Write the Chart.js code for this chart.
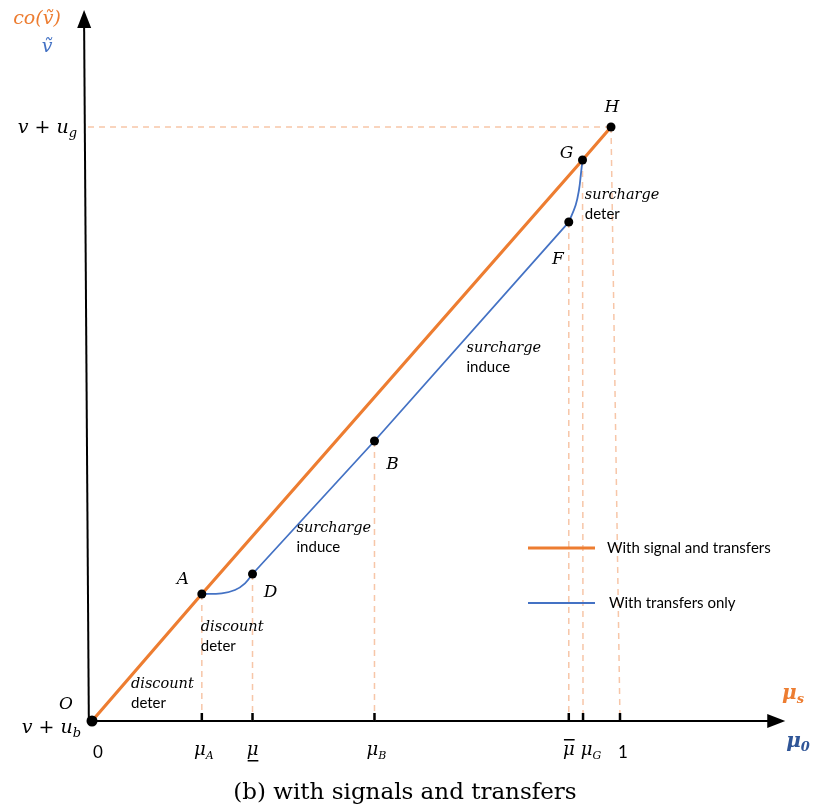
<!DOCTYPE html>
<html>
<head>
<meta charset="utf-8">
<script src="https://cdn.jsdelivr.net/npm/chart.js@4/dist/chart.umd.min.js"></script>
<style>
  html, body { margin: 0; padding: 0; background: #ffffff; overflow: hidden; }
  #wrap { width: 813px; height: 812px; position: relative; }
</style>
</head>
<body>
<div id="wrap"><canvas id="chart"></canvas></div>
<script>
// Belief (mu) on the horizontal axis, value on the vertical axis (0 = v+u_b, 1 = v+u_g).
const pointNames = ['O', 'A', 'D', 'B', 'F', 'G', 'H'];
const pointMu    = [0, 0.208, 0.304, 0.535, 0.903, 0.929, 0.983];
const pointValue = [0, 0.2138, 0.2475, 0.4714, 0.840, 0.9444, 1.0];

// Tick positions and labels on the mu axis ("_" starts a subscript)
const tickMu     = [0, 0.208, 0.304, 0.535, 0.903, 0.930, 1];
const tickLabels = ['0', 'μ_A', 'μ', 'μ_B', 'μ', 'μ_G', '1'];
const tickMarks  = ['', '', 'under', '', 'over', '', ''];

// With signal and transfers: straight line O - A - G - H
const signalMu    = [0, 0.208, 0.929, 0.983];
const signalValue = [0, 0.2138, 0.9444, 1.0];

// With transfers only: A -> D (curved), D -> B -> F (straight), F -> G (curved)
const transferMu    = [0.208, 0.2456, 0.2708, 0.2898, 0.304, 0.535, 0.903, 0.9161, 0.9223, 0.9261, 0.929];
const transferValue = [0.2138, 0.2150, 0.2205, 0.2318, 0.2475, 0.4714, 0.840, 0.8687, 0.8939, 0.9221, 0.9444];

const ORANGE = '#ED7D31';
const BLUE = '#4472C4';
const DARKBLUE = '#2F5597';
const GUIDE = '#F7C6A8';

const xy = (xs, ys, a, b) => xs.slice(a, b + 1).map((x, i) => ({ x, y: ys[a + i] }));

const guideSets = pointMu.slice(1).map((m, k) => {
  const i = k + 1;
  return {
    label: 'guide ' + pointNames[i],
    data: [{ x: m, y: pointValue[i] }, { x: tickMu[i], y: 0 }],
    showLine: true, borderColor: GUIDE, borderWidth: 1.5, borderDash: [6, 5],
    pointRadius: 0, order: 20
  };
});
// horizontal guide from H to the value axis
guideSets.push({
  label: 'guide H level',
  data: [{ x: pointMu[6], y: pointValue[6] }, { x: -0.015, y: pointValue[6] }],
  showLine: true, borderColor: GUIDE, borderWidth: 1.5, borderDash: [6, 5],
  pointRadius: 0, order: 20
});

const transferStyle = { showLine: true, borderColor: BLUE, borderWidth: 1.8, pointRadius: 0, order: 3 };

const datasets = [
  {
    label: 'points',
    data: xy(pointMu, pointValue, 0, pointMu.length - 1),
    showLine: false,
    pointRadius: pointNames.map(n => n === 'O' ? 5.5 : 4.5),
    pointBackgroundColor: '#000', pointBorderWidth: 0, order: 0
  },
  {
    label: 'With signal and transfers',
    data: xy(signalMu, signalValue, 0, signalMu.length - 1),
    showLine: true, borderColor: ORANGE, borderWidth: 3.2, pointRadius: 0, order: 2
  },
  Object.assign({ label: 'With transfers only', data: xy(transferMu, transferValue, 0, 4), tension: 0.4 }, transferStyle),
  Object.assign({ label: 'With transfers only (mid)', data: xy(transferMu, transferValue, 4, 6), tension: 0 }, transferStyle),
  Object.assign({ label: 'With transfers only (top)', data: xy(transferMu, transferValue, 6, 10), tension: 0.4 }, transferStyle),
  ...guideSets
];

const mathFont = s => `italic ${s}px "DejaVu Serif"`;
const sansFont = s => `${s}px Lato`;

// draws a run of text pieces: [text, font, color, dy, decoration]
function rich(ctx, parts, x, y, align) {
  let total = 0;
  const widths = parts.map(p => { ctx.font = p[1]; const w = ctx.measureText(p[0]).width; total += w; return w; });
  let cx = align === 'right' ? x - total : align === 'center' ? x - total / 2 : x;
  parts.forEach((p, i) => {
    ctx.font = p[1];
    ctx.fillStyle = p[2] || '#000';
    ctx.textAlign = 'left';
    ctx.textBaseline = 'alphabetic';
    ctx.fillText(p[0], cx, y + (p[3] || 0));
    if (p[4] === 'over' || p[4] === 'under') {
      const ly = p[4] === 'over' ? y - 16 : y + 5;
      ctx.fillRect(cx + 1, ly, widths[i] - 1, 1.5);
    }
    cx += widths[i];
  });
}

function arrowHead(ctx, x0, y0, x1, y1, len, half) {
  const a = Math.atan2(y1 - y0, x1 - x0);
  ctx.beginPath();
  ctx.moveTo(x1, y1);
  ctx.lineTo(x1 - len * Math.cos(a) + half * Math.sin(a), y1 - len * Math.sin(a) - half * Math.cos(a));
  ctx.lineTo(x1 - len * Math.cos(a) - half * Math.sin(a), y1 - len * Math.sin(a) + half * Math.cos(a));
  ctx.closePath();
  ctx.fill();
}

const diagram = {
  id: 'diagram',
  beforeDatasetsDraw(chart) {
    const { ctx, scales: { x, y } } = chart;
    ctx.save();
    ctx.strokeStyle = '#000';
    ctx.fillStyle = '#000';
    ctx.lineWidth = 2;
    // value axis (slightly leaning, as drawn)
    const vx0 = x.getPixelForValue(-0.006), vy0 = y.getPixelForValue(0);
    const vx1 = x.getPixelForValue(-0.015), vy1 = y.getPixelForValue(1.197);
    ctx.beginPath(); ctx.moveTo(vx0, vy0); ctx.lineTo(vx1, vy1 + 10); ctx.stroke();
    arrowHead(ctx, vx0, vy0, vx1, vy1, 18, 7);
    // mu axis
    const hx0 = x.getPixelForValue(-0.006), hx1 = x.getPixelForValue(1.313), hy = y.getPixelForValue(0);
    ctx.beginPath(); ctx.moveTo(hx0, hy); ctx.lineTo(hx1 - 10, hy); ctx.stroke();
    arrowHead(ctx, hx0, hy, hx1, hy, 18, 7);
    ctx.restore();
  },
  afterDatasetsDraw(chart) {
    const { ctx, scales: { x, y } } = chart;
    const hy = y.getPixelForValue(0);
    ctx.save();
    ctx.strokeStyle = '#000';
    ctx.lineWidth = 2.5;
    ctx.lineCap = 'butt';
    // tick marks on the mu axis
    tickMu.forEach((m, i) => {
      if (i === 0) return;
      const px = x.getPixelForValue(m);
      ctx.beginPath(); ctx.moveTo(px, hy + 1); ctx.lineTo(px, hy - 8); ctx.stroke();
    });
    ctx.restore();
  },
  afterDraw(chart) {
    const { ctx, scales: { x, y } } = chart;
    const P = i => ({ px: x.getPixelForValue(pointMu[i]), py: y.getPixelForValue(pointValue[i]) });
    ctx.save();

    // axis titles
    rich(ctx, [['co(ṽ)', mathFont(19), ORANGE]], 37, 24, 'center');
    rich(ctx, [['ṽ', mathFont(19), BLUE]], 47, 52, 'center');
    const yTop = y.getPixelForValue(1), yBot = y.getPixelForValue(0);
    rich(ctx, [['v', mathFont(19)], [' + ', '19px "DejaVu Serif"'], ['u', mathFont(19)], ['g', mathFont(13), '#000', 4]], 77, yTop + 6, 'right');
    rich(ctx, [['v', mathFont(19)], [' + ', '19px "DejaVu Serif"'], ['u', mathFont(19)], ['b', mathFont(13), '#000', 4]], 81, yBot + 12, 'right');
    rich(ctx, [['μ', 'bold ' + mathFont(20), ORANGE], ['s', 'bold ' + mathFont(13), ORANGE, 4]], 793, 699, 'center');
    rich(ctx, [['μ', 'bold ' + mathFont(20), DARKBLUE], ['0', 'bold ' + mathFont(13), DARKBLUE, 4]], 798, 747, 'center');

    // tick labels
    tickLabels.forEach((t, i) => {
      const px = x.getPixelForValue(tickMu[i]);
      if (t === '0' || t === '1') {
        rich(ctx, [[t, sansFont(17)]], px + (t === '0' ? 6 : 3), 758, 'center');
        return;
      }
      const [base, sub] = t.split('_');
      const parts = [[base, mathFont(18), '#000', 0, tickMarks[i]]];
      if (sub) parts.push([sub, mathFont(11), '#000', 4]);
      const shift = sub === 'G' ? 8 : (sub ? 2 : 0);
      rich(ctx, parts, px + shift, 755, 'center');
    });

    // point letters
    const letterOffsets = { O: [-26, -18], A: [-19, -16], D: [18, 17], B: [18, 22], F: [-11, 36], G: [-16, -8], H: [1, -21] };
    pointNames.forEach((n, i) => {
      const { px, py } = P(i);
      const [dx, dy] = letterOffsets[n];
      rich(ctx, [[n, mathFont(17)]], px + dx, py + dy + 6, 'center');
    });

    // regime notes
    const notes = [
      [0, 39, -37, 'discount', 'deter'],
      [1, -1, 33, 'discount', 'deter'],
      [2, 44, -46, 'surcharge', 'induce'],
      [3, 92, -93, 'surcharge', 'induce'],
      [4, 16, -27, 'surcharge', 'deter']
    ];
    notes.forEach(([i, dx, dy, a, b]) => {
      const { px, py } = P(i);
      rich(ctx, [[a, mathFont(14.5)]], px + dx, py + dy + 4, 'left');
      rich(ctx, [[b, sansFont(15)]], px + dx, py + dy + 24, 'left');
    });

    // legend
    ctx.lineCap = 'butt';
    ctx.strokeStyle = ORANGE; ctx.lineWidth = 3;
    ctx.beginPath(); ctx.moveTo(528, 548); ctx.lineTo(595, 548); ctx.stroke();
    ctx.strokeStyle = BLUE; ctx.lineWidth = 1.8;
    ctx.beginPath(); ctx.moveTo(528, 603); ctx.lineTo(595, 603); ctx.stroke();
    rich(ctx, [[datasets[1].label, sansFont(15)]], 607, 553, 'left');
    rich(ctx, [[datasets[2].label, sansFont(15)]], 609, 608, 'left');

    // caption
    rich(ctx, [['(b) with signals and transfers', '23px "DejaVu Serif"']], 405, 799, 'center');
    ctx.restore();
  }
};

new Chart(document.getElementById('chart'), {
  type: 'scatter',
  data: { datasets },
  options: {
    responsive: true,
    maintainAspectRatio: false,
    animation: false,
    layout: { padding: 0, autoPadding: false },
    plugins: { legend: { display: false }, tooltip: { enabled: false }, title: { display: false } },
    scales: {
      x: { type: 'linear', display: false, min: -0.17424, max: 1.36553 },
      y: { type: 'linear', display: false, min: -0.15320, max: 1.21380 }
    }
  },
  plugins: [diagram]
});
</script>
</body>
</html>
